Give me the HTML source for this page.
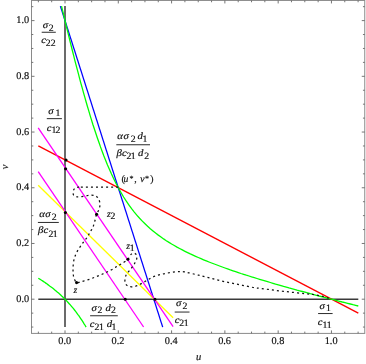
<!DOCTYPE html>
<html><head><meta charset="utf-8"><title>plot</title>
<style>
html,body{margin:0;padding:0;background:#fff;}
body{width:366px;height:364px;overflow:hidden;}
svg{display:block;will-change:transform;}
text{font-family:"Liberation Serif",serif;fill:#111;stroke:#111;stroke-width:0.18px;text-rendering:geometricPrecision;}
.i{font-style:italic;}
</style></head><body>
<svg width="366" height="364" viewBox="0 0 366 364">
<rect x="0" y="0" width="366" height="364" fill="#fff"/>
<line x1="38.3" y1="299.2" x2="358.3" y2="299.2" stroke="#3a3a3a" stroke-width="1.5"/>
<line x1="65.0" y1="6.11" x2="65.0" y2="327.06" stroke="#3a3a3a" stroke-width="1.5"/>
<path d="M38.3,145.9 L358.3,313.2" fill="none" stroke="#ff0000" stroke-width="1.3" />
<path d="M60.4,6.1 L162.7,327.1" fill="none" stroke="#0000ff" stroke-width="1.3" />
<path d="M38.2,185.2 L173.1,317.8" fill="none" stroke="#ffff00" stroke-width="1.3" />
<path d="M38.2,171.6 L143.6,327.0" fill="none" stroke="#ff00ff" stroke-width="1.3" />
<path d="M38.2,127.8 L173.1,326.7" fill="none" stroke="#ff00ff" stroke-width="1.3" />
<path d="M38.3,278.2 L39.4,278.9 L40.4,279.5 L41.5,280.2 L42.6,280.9 L43.6,281.6 L44.7,282.3 L45.8,283.1 L46.8,283.8 L47.9,284.6 L49.0,285.4 L50.0,286.2 L51.1,287.0 L52.2,287.8 L53.2,288.6 L54.3,289.5 L55.4,290.4 L56.4,291.2 L57.5,292.2 L58.6,293.1 L59.6,294.0 L60.7,295.0 L61.7,296.0 L62.8,297.0 L63.9,298.1 L64.9,299.1 L66.0,300.2 L67.1,301.4 L68.1,302.5 L69.2,303.7 L70.3,304.9 L71.3,306.1 L72.4,307.4 L73.5,308.7 L74.5,310.0 L75.6,311.4 L76.7,312.8 L77.7,314.3 L78.8,315.7 L79.9,317.3 L80.9,318.8 L82.0,320.4 L83.1,322.1 L84.1,323.8 L85.2,325.5 L86.1,327.1" fill="none" stroke="#00ff00" stroke-width="1.3" />
<path d="M61.5,6.1 L62.6,10.7 L63.7,15.2 L64.8,19.7 L65.9,24.3 L67.0,28.8 L68.1,33.4 L69.2,37.9 L70.3,42.4 L71.5,47.0 L72.6,51.5 L73.8,56.1 L74.9,60.6 L76.1,65.1 L77.3,69.7 L78.5,74.2 L79.7,78.8 L80.9,83.3 L82.2,87.9 L83.4,92.4 L84.7,96.9 L86.0,101.5 L87.3,106.0 L88.7,110.6 L90.0,115.1 L91.4,119.6 L92.8,124.2 L94.3,128.7 L95.8,133.3 L97.3,137.8 L98.9,142.3 L100.5,146.9 L102.2,151.4 L103.9,156.0 L105.7,160.5 L107.5,165.1 L109.5,169.6 L111.5,174.1 L113.7,178.7 L115.9,183.2 L118.3,187.8 L121.0,192.5 L123.6,197.0 L126.3,201.2 L129.0,205.1 L131.6,208.7 L134.3,212.1 L137.0,215.3 L139.6,218.3 L142.3,221.1 L145.0,223.8 L147.6,226.3 L150.3,228.7 L153.0,230.9 L155.6,233.1 L158.3,235.1 L161.0,237.0 L163.6,238.9 L166.3,240.7 L169.0,242.4 L171.6,244.0 L174.3,245.5 L177.0,247.1 L179.6,248.5 L182.3,249.9 L185.0,251.3 L187.6,252.6 L190.3,253.9 L193.0,255.1 L195.6,256.3 L198.3,257.5 L201.0,258.7 L203.6,259.8 L206.3,260.9 L209.0,262.0 L211.6,263.0 L214.3,264.0 L217.0,265.0 L219.6,266.0 L222.3,267.0 L225.0,268.0 L227.6,268.9 L230.3,269.9 L233.0,270.8 L235.6,271.7 L238.3,272.6 L241.0,273.5 L243.6,274.3 L246.3,275.2 L249.0,276.0 L251.6,276.9 L254.3,277.7 L257.0,278.5 L259.6,279.3 L262.3,280.1 L265.0,280.9 L267.6,281.7 L270.3,282.5 L273.0,283.3 L275.6,284.1 L278.3,284.8 L281.0,285.6 L283.6,286.4 L286.3,287.1 L289.0,287.9 L291.6,288.6 L294.3,289.3 L297.0,290.1 L299.6,290.8 L302.3,291.5 L305.0,292.2 L307.6,292.9 L310.3,293.7 L313.0,294.4 L315.6,295.1 L318.3,295.8 L321.0,296.5 L323.6,297.2 L326.3,297.9 L329.0,298.6 L331.6,299.2 L334.3,299.9 L337.0,300.6 L339.6,301.3 L342.3,302.0 L345.0,302.6 L347.6,303.3 L350.3,304.0 L353.0,304.7 L355.6,305.3 L358.3,306.0" fill="none" stroke="#00ff00" stroke-width="1.3" />
<path d="M118.2,187.2 L79.2,187.0" fill="none" stroke="#111" stroke-width="1.25" stroke-dasharray="2 3.05" stroke-linecap="butt"/>
<path d="M79.20,187.00 C78.60,187.13 76.53,187.30 75.60,187.80 C74.67,188.30 74.02,189.22 73.60,190.00 C73.18,190.78 73.07,191.58 73.10,192.50 C73.13,193.42 73.10,194.77 73.80,195.50 C74.50,196.23 75.60,196.78 77.30,196.90 C79.00,197.02 81.75,196.48 84.00,196.20 C86.25,195.92 88.87,195.23 90.80,195.20 C92.73,195.17 94.30,195.40 95.60,196.00 C96.90,196.60 97.87,197.37 98.60,198.80 C99.33,200.23 99.98,202.73 100.00,204.60 C100.02,206.47 99.27,208.38 98.70,210.00 C98.13,211.62 97.28,212.30 96.60,214.30 C95.92,216.30 95.25,219.77 94.60,222.00 C93.95,224.23 93.50,225.95 92.70,227.70 C91.90,229.45 90.67,230.97 89.80,232.50 C88.93,234.03 88.40,235.52 87.50,236.90 C86.60,238.28 85.37,239.52 84.40,240.80 C83.43,242.08 82.63,243.27 81.70,244.60 C80.77,245.93 79.70,247.38 78.80,248.80 C77.90,250.22 77.00,251.65 76.30,253.10 C75.60,254.55 75.07,255.97 74.60,257.50 C74.13,259.03 73.75,260.70 73.50,262.30 C73.25,263.90 73.17,265.50 73.10,267.10 C73.03,268.70 72.98,270.20 73.10,271.90 C73.22,273.60 73.23,275.52 73.80,277.30 C74.37,279.08 75.43,281.83 76.50,282.60 C77.57,283.37 78.78,282.23 80.20,281.90 C81.62,281.57 83.40,281.05 85.00,280.60 C86.60,280.15 88.20,279.75 89.80,279.20 C91.40,278.65 93.00,277.93 94.60,277.30 C96.20,276.67 97.87,276.03 99.40,275.40 C100.93,274.77 102.35,274.15 103.80,273.50 C105.25,272.85 106.58,272.25 108.10,271.50 C109.62,270.75 111.37,269.88 112.90,269.00 C114.43,268.12 115.87,267.07 117.30,266.20 C118.73,265.33 119.75,264.95 121.50,263.80 C123.25,262.65 126.25,260.83 127.80,259.30 C129.35,257.77 129.77,255.63 130.80,254.60 C131.83,253.57 133.05,253.03 134.00,253.10 C134.95,253.17 136.05,254.05 136.50,255.00 C136.95,255.95 136.95,257.52 136.70,258.80 C136.45,260.08 135.67,261.42 135.00,262.70 C134.33,263.98 133.67,265.15 132.70,266.50 C131.73,267.85 130.27,269.45 129.20,270.80 C128.13,272.15 127.00,273.23 126.30,274.60 C125.60,275.97 125.15,277.52 125.00,279.00 C124.85,280.48 124.85,282.28 125.40,283.50 C125.95,284.72 127.02,285.77 128.30,286.30 C129.58,286.83 131.50,286.85 133.10,286.70 C134.70,286.55 136.30,286.03 137.90,285.40 C139.50,284.77 141.10,283.80 142.70,282.90 C144.30,282.00 145.90,280.93 147.50,280.00 C149.10,279.07 150.53,278.10 152.30,277.30 C154.07,276.50 156.18,275.78 158.10,275.20 C160.02,274.62 161.88,274.22 163.80,273.80 C165.72,273.38 167.67,273.02 169.60,272.70 C171.53,272.38 173.67,272.08 175.40,271.90 C177.13,271.72 178.57,271.62 180.00,271.60 C181.43,271.58 182.53,271.60 184.00,271.80 C185.47,272.00 186.38,272.23 188.80,272.80 C191.22,273.37 195.05,274.35 198.50,275.20 C201.95,276.05 205.85,276.98 209.50,277.90 C213.15,278.82 216.75,279.83 220.40,280.70 C224.05,281.57 227.73,282.33 231.40,283.10 C235.07,283.87 238.73,284.57 242.40,285.30 C246.07,286.03 250.30,286.97 253.40,287.50 C256.50,288.03 257.90,288.10 261.00,288.50 C264.10,288.90 268.33,289.43 272.00,289.90 C275.67,290.37 279.33,290.87 283.00,291.30 C286.67,291.73 290.33,292.12 294.00,292.50 C297.67,292.88 301.80,293.27 305.00,293.60 C308.20,293.93 310.47,294.08 313.20,294.50 C315.93,294.92 318.60,295.42 321.40,296.10 C324.20,296.78 328.57,298.18 330.00,298.60" fill="none" stroke="#111" stroke-width="1.25" stroke-dasharray="2 3.05" stroke-linecap="butt"/>
<circle cx="66.0" cy="160.0" r="1.55" fill="#000"/>
<circle cx="65.6" cy="168.8" r="1.55" fill="#000"/>
<circle cx="65.4" cy="212.5" r="1.55" fill="#000"/>
<circle cx="96.6" cy="214.3" r="1.55" fill="#000"/>
<circle cx="76.6" cy="282.6" r="1.55" fill="#000"/>
<circle cx="127.9" cy="259.3" r="1.55" fill="#000"/>
<circle cx="125.2" cy="299.2" r="1.55" fill="#000"/>
<circle cx="154.9" cy="299.2" r="1.55" fill="#000"/>
<rect x="31.5" y="0.45" width="333.25" height="332.95" fill="none" stroke="#8a8a8a" stroke-width="1"/>
<path d="M38.36,333.4 v-1.8 M38.36,0.45 v1.8 M51.68,333.4 v-1.8 M51.68,0.45 v1.8 M65.00,333.4 v-3.0 M65.00,0.45 v3.0 M78.32,333.4 v-1.8 M78.32,0.45 v1.8 M91.64,333.4 v-1.8 M91.64,0.45 v1.8 M104.97,333.4 v-1.8 M104.97,0.45 v1.8 M118.29,333.4 v-3.0 M118.29,0.45 v3.0 M131.61,333.4 v-1.8 M131.61,0.45 v1.8 M144.94,333.4 v-1.8 M144.94,0.45 v1.8 M158.26,333.4 v-1.8 M158.26,0.45 v1.8 M171.58,333.4 v-3.0 M171.58,0.45 v3.0 M184.90,333.4 v-1.8 M184.90,0.45 v1.8 M198.22,333.4 v-1.8 M198.22,0.45 v1.8 M211.55,333.4 v-1.8 M211.55,0.45 v1.8 M224.87,333.4 v-3.0 M224.87,0.45 v3.0 M238.19,333.4 v-1.8 M238.19,0.45 v1.8 M251.52,333.4 v-1.8 M251.52,0.45 v1.8 M264.84,333.4 v-1.8 M264.84,0.45 v1.8 M278.16,333.4 v-3.0 M278.16,0.45 v3.0 M291.48,333.4 v-1.8 M291.48,0.45 v1.8 M304.81,333.4 v-1.8 M304.81,0.45 v1.8 M318.13,333.4 v-1.8 M318.13,0.45 v1.8 M331.45,333.4 v-3.0 M331.45,0.45 v3.0 M344.77,333.4 v-1.8 M344.77,0.45 v1.8 M358.10,333.4 v-1.8 M358.10,0.45 v1.8 M31.5,327.06 h1.8 M364.75,327.06 h-1.8 M31.5,313.13 h1.8 M364.75,313.13 h-1.8 M31.5,299.20 h3.0 M364.75,299.20 h-3.0 M31.5,285.27 h1.8 M364.75,285.27 h-1.8 M31.5,271.34 h1.8 M364.75,271.34 h-1.8 M31.5,257.41 h1.8 M364.75,257.41 h-1.8 M31.5,243.48 h3.0 M364.75,243.48 h-3.0 M31.5,229.55 h1.8 M364.75,229.55 h-1.8 M31.5,215.62 h1.8 M364.75,215.62 h-1.8 M31.5,201.69 h1.8 M364.75,201.69 h-1.8 M31.5,187.76 h3.0 M364.75,187.76 h-3.0 M31.5,173.83 h1.8 M364.75,173.83 h-1.8 M31.5,159.90 h1.8 M364.75,159.90 h-1.8 M31.5,145.97 h1.8 M364.75,145.97 h-1.8 M31.5,132.04 h3.0 M364.75,132.04 h-3.0 M31.5,118.11 h1.8 M364.75,118.11 h-1.8 M31.5,104.18 h1.8 M364.75,104.18 h-1.8 M31.5,90.25 h1.8 M364.75,90.25 h-1.8 M31.5,76.32 h3.0 M364.75,76.32 h-3.0 M31.5,62.39 h1.8 M364.75,62.39 h-1.8 M31.5,48.46 h1.8 M364.75,48.46 h-1.8 M31.5,34.53 h1.8 M364.75,34.53 h-1.8 M31.5,20.60 h3.0 M364.75,20.60 h-3.0 M31.5,6.67 h1.8 M364.75,6.67 h-1.8" fill="none" stroke="#666" stroke-width="0.9"/>
<text x="64.70" y="344.2" font-size="10.3" text-anchor="middle">0.0</text>
<text x="29.2" y="301.70" font-size="10.3" text-anchor="end">0.0</text>
<text x="117.99" y="344.2" font-size="10.3" text-anchor="middle">0.2</text>
<text x="29.2" y="245.98" font-size="10.3" text-anchor="end">0.2</text>
<text x="171.28" y="344.2" font-size="10.3" text-anchor="middle">0.4</text>
<text x="29.2" y="190.26" font-size="10.3" text-anchor="end">0.4</text>
<text x="224.57" y="344.2" font-size="10.3" text-anchor="middle">0.6</text>
<text x="29.2" y="134.54" font-size="10.3" text-anchor="end">0.6</text>
<text x="277.86" y="344.2" font-size="10.3" text-anchor="middle">0.8</text>
<text x="29.2" y="78.82" font-size="10.3" text-anchor="end">0.8</text>
<text x="331.15" y="344.2" font-size="10.3" text-anchor="middle">1.0</text>
<text x="29.2" y="23.10" font-size="10.3" text-anchor="end">1.0</text>
<text class="i" x="198.5" y="359.6" font-size="10.5" text-anchor="middle">u</text>
<text class="i" transform="translate(7.6,166.8) rotate(-90)" font-size="10.5" text-anchor="middle">v</text>
<line x1="41.7" y1="32.25" x2="55.8" y2="32.25" stroke="#2a2a2a" stroke-width="1"/>
<text class="i" transform="translate(42.68,28.30) scale(1.12,1)" font-size="9.6">σ</text>
<text x="48.77" y="30.90" font-size="9.8">2</text>
<text class="i" transform="translate(41.37,43.00) scale(1.12,1)" font-size="9.6">c</text>
<text x="45.87" y="46.00" font-size="9.8">2</text>
<text x="50.77" y="46.00" font-size="9.8">2</text>
<line x1="46.8" y1="118.65" x2="61.9" y2="118.65" stroke="#2a2a2a" stroke-width="1"/>
<text class="i" transform="translate(48.18,114.30) scale(1.12,1)" font-size="9.6">σ</text>
<text x="55.44" y="116.30" font-size="9.8">1</text>
<text class="i" transform="translate(46.87,131.00) scale(1.12,1)" font-size="9.6">c</text>
<text x="51.44" y="133.10" font-size="9.8">1</text>
<text x="55.57" y="133.10" font-size="9.8">2</text>
<line x1="116.3" y1="144.75" x2="150.0" y2="144.75" stroke="#2a2a2a" stroke-width="1"/>
<text class="i" transform="translate(117.28,139.40) scale(1.12,1)" font-size="9.6">α</text>
<text class="i" transform="translate(123.58,139.40) scale(1.12,1)" font-size="9.6">σ</text>
<text x="130.67" y="141.80" font-size="9.8">2</text>
<text class="i" transform="translate(137.38,139.40) scale(1.12,1)" font-size="9.6">d</text>
<text x="142.54" y="141.80" font-size="9.8">1</text>
<text class="i" transform="translate(116.47,155.90) scale(1.12,1)" font-size="9.6">β</text>
<text class="i" transform="translate(121.97,155.90) scale(1.12,1)" font-size="9.6">c</text>
<text x="126.57" y="158.90" font-size="9.8">2</text>
<text x="130.84" y="158.90" font-size="9.8">1</text>
<text class="i" transform="translate(137.88,155.90) scale(1.12,1)" font-size="9.6">d</text>
<text x="144.17" y="158.90" font-size="9.8">2</text>
<line x1="37.9" y1="222.45" x2="58.8" y2="222.45" stroke="#2a2a2a" stroke-width="1"/>
<text class="i" transform="translate(39.18,217.20) scale(1.12,1)" font-size="9.6">α</text>
<text class="i" transform="translate(45.28,217.20) scale(1.12,1)" font-size="9.6">σ</text>
<text x="51.77" y="219.70" font-size="9.8">2</text>
<text class="i" transform="translate(38.07,233.40) scale(1.12,1)" font-size="9.6">β</text>
<text class="i" transform="translate(43.57,233.40) scale(1.12,1)" font-size="9.6">c</text>
<text x="48.47" y="237.00" font-size="9.8">2</text>
<text x="52.74" y="237.00" font-size="9.8">1</text>
<line x1="90.1" y1="315.75" x2="117.8" y2="315.75" stroke="#2a2a2a" stroke-width="1"/>
<text class="i" transform="translate(91.38,310.50) scale(1.12,1)" font-size="9.6">σ</text>
<text x="97.47" y="312.50" font-size="9.8">2</text>
<text class="i" transform="translate(105.58,310.50) scale(1.12,1)" font-size="9.6">d</text>
<text x="110.97" y="312.50" font-size="9.8">2</text>
<text class="i" transform="translate(89.77,327.00) scale(1.12,1)" font-size="9.6">c</text>
<text x="94.57" y="330.20" font-size="9.8">2</text>
<text x="98.94" y="330.20" font-size="9.8">1</text>
<text class="i" transform="translate(106.68,327.00) scale(1.12,1)" font-size="9.6">d</text>
<text x="111.54" y="330.20" font-size="9.8">1</text>
<line x1="174.7" y1="312.05" x2="189.5" y2="312.05" stroke="#2a2a2a" stroke-width="1"/>
<text class="i" transform="translate(176.08,306.40) scale(1.12,1)" font-size="9.6">σ</text>
<text x="182.57" y="308.60" font-size="9.8">2</text>
<text class="i" transform="translate(174.67,323.20) scale(1.12,1)" font-size="9.6">c</text>
<text x="179.27" y="325.90" font-size="9.8">2</text>
<text x="183.64" y="325.90" font-size="9.8">1</text>
<line x1="318.1" y1="313.55" x2="332.6" y2="313.55" stroke="#2a2a2a" stroke-width="1"/>
<text class="i" transform="translate(319.48,308.60) scale(1.12,1)" font-size="9.6">σ</text>
<text x="326.04" y="311.00" font-size="9.8">1</text>
<text class="i" transform="translate(317.77,325.40) scale(1.12,1)" font-size="9.6">c</text>
<text x="322.54" y="327.80" font-size="9.8">1</text>
<text x="326.74" y="327.80" font-size="9.8">1</text>
<text x="121.47" y="182.20" font-size="9.8">(</text>
<text class="i" x="123.52" y="182.20" font-size="9.6">u</text>
<text x="129.51" y="180.60" font-size="8.0">*</text>
<text x="134.33" y="182.20" font-size="9.8">,</text>
<text class="i" x="140.37" y="182.20" font-size="9.6">v</text>
<text x="145.01" y="180.60" font-size="8.0">*</text>
<text x="150.29" y="182.20" font-size="9.8">)</text>
<text class="i" x="107.11" y="217.20" font-size="9.6">z</text>
<text x="110.47" y="219.40" font-size="9.8">2</text>
<text class="i" x="126.31" y="248.50" font-size="9.6">z</text>
<text x="129.74" y="251.00" font-size="9.8">1</text>
<text class="i" x="73.41" y="292.90" font-size="9.6">z</text>
</svg>
</body></html>
